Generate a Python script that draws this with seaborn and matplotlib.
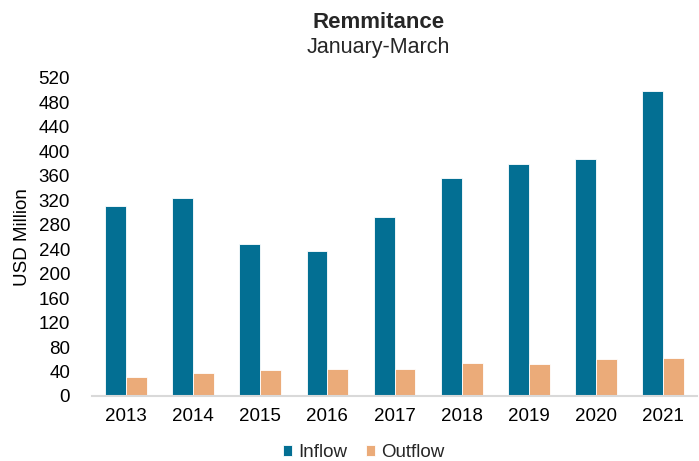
import pandas as pd
import matplotlib.pyplot as plt
import seaborn as sns

years = ['2013', '2014', '2015', '2016', '2017', '2018', '2019', '2020', '2021']
inflow = [310, 324, 249, 237, 293, 356, 380, 388, 499]
outflow = [31, 38, 42, 44, 44, 54, 52, 60, 62]

df = pd.DataFrame({
    'Year': years * 2,
    'Value': inflow + outflow,
    'Type': ['Inflow'] * len(years) + ['Outflow'] * len(years),
})

sns.set_theme(style="white")
plt.rcParams['font.family'] = ['Liberation Sans', 'DejaVu Sans']

fig = plt.figure(figsize=(6.99, 4.61), dpi=100)
ax = fig.add_axes([0.132, 0.141, 0.865, 0.69])
sns.barplot(data=df, x='Year', y='Value', hue='Type',
            palette={'Inflow': '#036F93', 'Outflow': '#EBAB79'},
            saturation=1, width=0.62, edgecolor='white', linewidth=0.6, ax=ax)

ax.set_ylim(0, 520)
ax.set_yticks(range(0, 521, 40))
ax.set_xlim(-0.5, 8.5)
ax.tick_params(axis='both', labelsize=13.5, length=0, colors='black')
ax.tick_params(axis='x', pad=9)
ax.tick_params(axis='y', pad=16)
ax.set_xlabel('')
ax.set_ylabel('USD Million', fontsize=13.5, color='black')
ax.yaxis.set_label_coords(-0.102, 0.5)
for s in ['top', 'right', 'left']:
    ax.spines[s].set_visible(False)
ax.spines['bottom'].set_color('#d9d9d9')
ax.spines['bottom'].set_linewidth(1.5)

ax.legend(loc='center', bbox_to_anchor=(0.52, 0.018), bbox_transform=fig.transFigure,
          ncol=2, frameon=False, fontsize=13.5, handlelength=0.5, handleheight=0.5,
          handletextpad=0.3, columnspacing=1.0, borderaxespad=0)

fig.text(0.541, 0.952, 'Remmitance', ha='center', va='center', fontsize=16, fontweight='bold')
fig.text(0.541, 0.896, 'January-March', ha='center', va='center', fontsize=15.5)

plt.savefig('out.png', dpi=100)
